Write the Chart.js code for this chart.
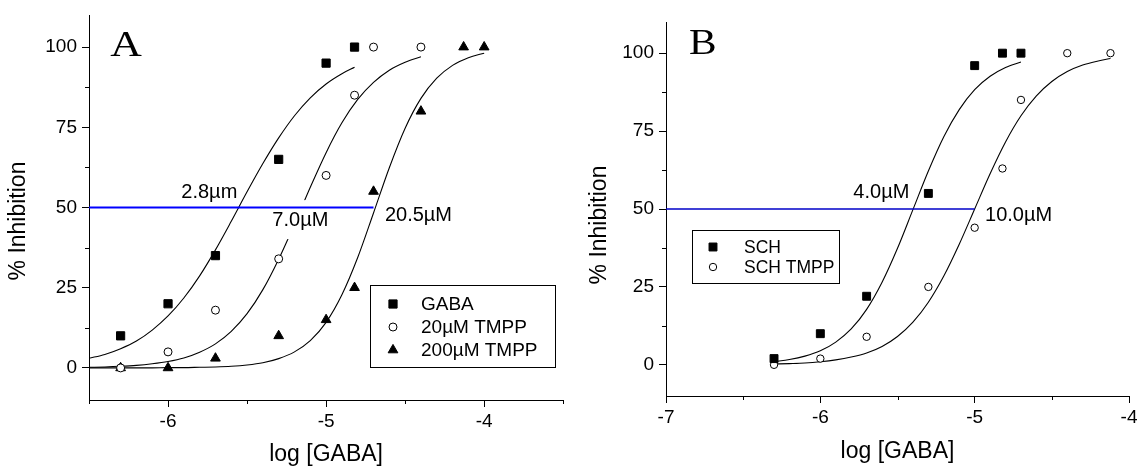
<!DOCTYPE html>
<html>
<head>
<meta charset="utf-8">
<script src="https://cdn.jsdelivr.net/npm/chart.js@4.4.1/dist/chart.umd.min.js"></script>
<style>
  html, body { margin: 0; padding: 0; background: #fff; overflow: hidden; }
  #wrap { position: relative; width: 1137px; height: 468px; overflow: hidden; }
  #chartA { position: absolute; left: 0; top: 0; }
  #chartB { position: absolute; left: 570px; top: 0; }
</style>
</head>
<body>
<div id="wrap">
  <canvas id="chartA" width="570" height="468"></canvas>
  <canvas id="chartB" width="580" height="468"></canvas>
</div>
<script>
// ---------- panel A : measured points ----------
const gabaX    = [-6.3, -6.0, -5.7, -5.3, -5.0, -4.82];
const gabaY    = [10, 20, 35, 65, 95, 100];
const tmpp20X  = [-6.3, -6.0, -5.7, -5.3, -5.0, -4.82, -4.7, -4.4];
const tmpp20Y  = [0, 5, 18, 34, 60, 85, 100, 100];
const tmpp200X = [-6.3, -6.0, -5.7, -5.3, -5.0, -4.82, -4.7, -4.4, -4.13, -4.0];
const tmpp200Y = [0, 0, 3, 10, 15, 25, 55, 80, 100, 100];

// panel A : fitted curves
const gabaFitX = [-6.5, -6.4, -6.3, -6.2, -6.1, -6.0, -5.9, -5.8, -5.7, -5.6, -5.5, -5.4, -5.3, -5.2, -5.1, -5.0, -4.9, -4.82];
const gabaFitY = [3.0, 4.2, 6.0, 8.4, 11.8, 16.2, 21.8, 28.7, 36.8, 45.7, 54.9, 63.7, 71.7, 78.6, 84.2, 88.5, 91.7, 93.7];
const tmpp20FitX = [-6.5, -6.4, -6.3, -6.2, -6.1, -6.0, -5.9, -5.8, -5.7, -5.6, -5.5, -5.4, -5.3, -5.2, -5.1, -5.0, -4.9, -4.8, -4.7, -4.6, -4.5, -4.4];
const tmpp20FitY = [0.2, 0.3, 0.5, 0.8, 1.3, 2.0, 3.1, 4.9, 7.5, 11.4, 16.9, 24.4, 33.9, 44.8, 56.3, 67.1, 76.4, 83.7, 89.0, 92.8, 95.3, 97.0];
const tmpp200FitX = [-6.5, -6.4, -6.3, -6.2, -6.1, -6.0, -5.9, -5.8, -5.7, -5.6, -5.5, -5.4, -5.3, -5.2, -5.1, -5.0, -4.9, -4.8, -4.7, -4.6, -4.5, -4.4, -4.3, -4.2, -4.1, -4.0];
const tmpp200FitY = [0, 0, 0, 0, 0, 0.1, 0.1, 0.2, 0.3, 0.5, 0.9, 1.6, 2.9, 5.0, 8.5, 14.2, 22.8, 34.4, 48.3, 62.4, 74.7, 84.0, 90.3, 94.3, 96.7, 98.1];
const halfA_X = [-6.5, -4.7];
const halfA_Y = [50, 50];

// ---------- panel B ----------
const schX  = [-6.3, -6.0, -5.7, -5.3, -5.0, -4.82, -4.7];
const schY  = [2, 10, 22, 55, 96, 100, 100];
const schTX = [-6.3, -6.0, -5.7, -5.3, -5.0, -4.82, -4.7, -4.4, -4.12];
const schTY = [0, 2, 9, 25, 44, 63, 85, 100, 100];
const schFitX = [-6.3, -6.2, -6.1, -6.0, -5.9, -5.8, -5.7, -5.6, -5.5, -5.4, -5.3, -5.2, -5.1, -5.0, -4.9, -4.8, -4.7];
const schFitY = [1.0, 1.7, 2.8, 4.5, 7.3, 11.5, 17.8, 26.5, 37.4, 49.8, 62.2, 73.2, 81.9, 88.3, 92.6, 95.4, 97.2];
const schTFitX = [-6.3, -6.2, -6.1, -6.0, -5.9, -5.8, -5.7, -5.6, -5.5, -5.4, -5.3, -5.2, -5.1, -5.0, -4.9, -4.8, -4.7, -4.6, -4.5, -4.4, -4.3, -4.2, -4.12];
const schTFitY = [0.25, 0.4, 0.6, 1.0, 1.6, 2.5, 3.8, 5.9, 9.1, 13.7, 20.1, 28.5, 38.7, 50, 61.3, 71.5, 79.9, 86.3, 90.9, 94.1, 96.2, 97.5, 98.3];
const halfB_X = [-7.0, -5.0];
const halfB_Y = [50, 50];

// ticks
const xMajorA = [-6, -5, -4];
const xMinorA = [-6.5, -5.5, -4.5, -3.5];
const xMajorB = [-7, -6, -5, -4];
const xMinorB = [-6.5, -5.5, -4.5];
const yMajor = [0, 25, 50, 75, 100];
const yMinor = [12.5, 37.5, 62.5, 87.5];

const SANS = '"Liberation Sans", Arial, sans-serif';
const SERIF = '"Liberation Serif", "Times New Roman", serif';

function pts(xs, ys) { return xs.map((x, i) => ({ x: x, y: ys[i] })); }

function drawSymbol(ctx, ds, x, y) {
  const r = ds.pointRadius;
  ctx.beginPath();
  if (ds.pointStyle === 'rect') {
    const s = r * Math.SQRT1_2;
    ctx.rect(x - s, y - s, 2 * s, 2 * s);
  } else if (ds.pointStyle === 'triangle') {
    ctx.moveTo(x, y - r);
    ctx.lineTo(x + r * 0.866, y + r * 0.5);
    ctx.lineTo(x - r * 0.866, y + r * 0.5);
    ctx.closePath();
  } else {
    ctx.arc(x, y, r, 0, Math.PI * 2);
  }
  ctx.fillStyle = ds.pointBackgroundColor;
  ctx.fill();
  ctx.lineWidth = 1;
  ctx.strokeStyle = ds.pointBorderColor;
  ctx.stroke();
}

const deco = {
  id: 'deco',
  // IC50 labels go under the 50% line but over the curves
  beforeDatasetDraw(chart, args, o) {
    if (!chart.data.datasets[args.index].isRef) return;
    const ctx = chart.ctx, sx = chart.scales.x, sy = chart.scales.y;
    ctx.save();
    ctx.font = o.labelSize + 'px ' + SANS;
    ctx.textAlign = 'left';
    ctx.textBaseline = 'alphabetic';
    o.labels.forEach(l => {
      const px = sx.getPixelForValue(l.x), py = sy.getPixelForValue(l.y);
      if (l.mask) {
        const w = ctx.measureText(l.text).width;
        ctx.fillStyle = '#fff';
        ctx.fillRect(px - 4, py - 26, w + 8, 39);
      }
      ctx.fillStyle = '#000';
      ctx.fillText(l.text, px, py);
    });
    ctx.restore();
  },
  afterDraw(chart, args, o) {
    const ctx = chart.ctx, sx = chart.scales.x, sy = chart.scales.y, a = chart.chartArea;
    ctx.save();
    // minor ticks
    ctx.strokeStyle = '#000';
    ctx.lineWidth = 1;
    ctx.beginPath();
    o.xMinor.forEach(v => {
      const px = Math.round(sx.getPixelForValue(v)) + 0.5;
      ctx.moveTo(px, a.bottom);
      ctx.lineTo(px, a.bottom + 4);
    });
    o.yMinor.forEach(v => {
      const py = Math.round(sy.getPixelForValue(v)) + 0.5;
      ctx.moveTo(a.left, py);
      ctx.lineTo(a.left - 4, py);
    });
    ctx.stroke();

    // axis titles
    ctx.fillStyle = '#000';
    ctx.font = o.titleSize + 'px ' + SANS;
    ctx.textAlign = 'center';
    ctx.textBaseline = 'alphabetic';
    ctx.fillText(o.xTitle, (a.left + a.right) / 2, o.xTitleY);
    ctx.save();
    ctx.translate(o.yTitleX, o.yTitleMid);
    ctx.rotate(-Math.PI / 2);
    ctx.fillText(o.yTitle, 0, 0);
    ctx.restore();

    // panel letter (the original glyph is a little wider than Liberation Serif)
    ctx.save();
    ctx.font = o.letterSize + 'px ' + SERIF;
    ctx.textAlign = 'left';
    ctx.translate(sx.getPixelForValue(o.letterAt[0]), sy.getPixelForValue(o.letterAt[1]));
    ctx.scale(o.letterStretch, 1);
    ctx.fillText(o.letter, 0, 0);
    ctx.restore();

    // legend
    const L = o.legend;
    ctx.fillStyle = '#fff';
    ctx.fillRect(L.x, L.y, L.w, L.h);
    ctx.strokeStyle = '#000';
    ctx.strokeRect(L.x + 0.5, L.y + 0.5, L.w, L.h);
    ctx.font = L.size + 'px ' + SANS;
    L.items.forEach((idx, i) => {
      const ds = chart.data.datasets[idx];
      const cy = L.y + L.first + i * L.step;
      drawSymbol(ctx, ds, L.symX, cy);
      ctx.fillStyle = '#000';
      ctx.textAlign = 'left';
      ctx.textBaseline = 'middle';
      ctx.fillText(ds.label, L.textX, cy + 1);
    });
    ctx.restore();
  }
};

function scatterSet(label, xs, ys, style, r, fill) {
  return {
    label: label, data: pts(xs, ys), showLine: false, order: 0,
    pointStyle: style, pointRadius: r, pointHoverRadius: r,
    pointBackgroundColor: fill, pointBorderColor: '#000', pointBorderWidth: 1
  };
}
function fitSet(xs, ys) {
  return {
    label: 'fit', data: pts(xs, ys), showLine: true, order: 2, pointRadius: 0,
    borderColor: '#000', borderWidth: 1.1, cubicInterpolationMode: 'monotone', fill: false
  };
}
function refSet(xs, ys, color, w) {
  return {
    label: 'ref', isRef: true, data: pts(xs, ys), showLine: true, order: 1, pointRadius: 0,
    borderColor: color, borderWidth: w, fill: false
  };
}

function makeScales(xmin, xmax, xMajor, yAxisW, xAxisH) {
  const tickFont = { family: SANS, size: 19 };
  return {
    x: {
      type: 'linear', min: xmin, max: xmax,
      afterBuildTicks: s => { s.ticks = xMajor.map(v => ({ value: v })); },
      afterFit: s => { s.height = xAxisH; s.paddingLeft = 0; s.paddingRight = 0; },
      grid: { display: true, drawOnChartArea: false, drawTicks: true, tickLength: 7, tickColor: '#000', tickWidth: 1 },
      border: { display: true, color: '#000', width: 1 },
      ticks: { color: '#000', font: tickFont, padding: 3, maxRotation: 0, autoSkip: false, callback: v => String(v) }
    },
    y: {
      type: 'linear', min: -10, max: 110,
      afterBuildTicks: s => { s.ticks = yMajor.map(v => ({ value: v })); },
      afterFit: s => { s.width = yAxisW; s.paddingTop = 0; s.paddingBottom = 0; },
      grid: { display: true, drawOnChartArea: false, drawTicks: true, tickLength: 7, tickColor: '#000', tickWidth: 1 },
      border: { display: true, color: '#000', width: 1 },
      ticks: { color: '#000', font: tickFont, padding: 5, autoSkip: false, callback: v => String(v) }
    }
  };
}

const common = {
  responsive: false, animation: false, devicePixelRatio: 1, events: []
};

new Chart(document.getElementById('chartA'), {
  type: 'scatter',
  data: {
    datasets: [
      scatterSet('GABA', gabaX, gabaY, 'rect', 5.8, '#000'),
      scatterSet('20µM TMPP', tmpp20X, tmpp20Y, 'circle', 4.0, '#fff'),
      scatterSet('200µM TMPP', tmpp200X, tmpp200Y, 'triangle', 5.6, '#000'),
      refSet(halfA_X, halfA_Y, '#0000ff', 2),
      fitSet(gabaFitX, gabaFitY),
      fitSet(tmpp20FitX, tmpp20FitY),
      fitSet(tmpp200FitX, tmpp200FitY)
    ]
  },
  options: Object.assign({}, common, {
    layout: { padding: { left: 0, top: 15, right: 3, bottom: 0 } },
    scales: makeScales(-6.5, -3.5, xMajorA, 89, 68),
    plugins: {
      legend: { display: false }, tooltip: { enabled: false },
      deco: {
        xMinor: xMinorA, yMinor: yMinor,
        xTitle: 'log [GABA]', xTitleY: 461, yTitle: '% Inhibition', yTitleX: 25, yTitleMid: 221, titleSize: 23,
        letter: 'A', letterAt: [-6.366, 97.1], letterSize: 35, letterStretch: 1.25,
        labelSize: 20,
        labels: [
          { text: '2.8µm', x: -5.916, y: 53.1 },
          { text: '7.0µM', x: -5.34, y: 44.2, mask: true },
          { text: '20.5µM', x: -4.628, y: 45.8 }
        ],
        legend: { x: 370, y: 285, w: 185, h: 82, symX: 393, textX: 421, first: 19, step: 23, size: 19, items: [0, 1, 2] }
      }
    }
  }),
  plugins: [deco]
});

new Chart(document.getElementById('chartB'), {
  type: 'scatter',
  data: {
    datasets: [
      scatterSet('SCH', schX, schY, 'rect', 5.6, '#000'),
      scatterSet('SCH TMPP', schTX, schTY, 'circle', 3.7, '#fff'),
      refSet(halfB_X, halfB_Y, '#0000c8', 1.4),
      fitSet(schFitX, schFitY),
      fitSet(schTFitX, schTFitY)
    ]
  },
  options: Object.assign({}, common, {
    layout: { padding: { left: 0, top: 22, right: 21, bottom: 0 } },
    scales: makeScales(-7, -4, xMajorB, 96, 72),
    plugins: {
      legend: { display: false }, tooltip: { enabled: false },
      deco: {
        xMinor: xMinorB, yMinor: yMinor,
        xTitle: 'log [GABA]', xTitleY: 458, yTitle: '% Inhibition', yTitleX: 36, yTitleMid: 225, titleSize: 23,
        letter: 'B', letterAt: [-6.851, 99.8], letterSize: 36, letterStretch: 1.15,
        labelSize: 20,
        labels: [
          { text: '4.0µM', x: -5.786, y: 53.4 },
          { text: '10.0µM', x: -4.933, y: 46 }
        ],
        legend: { x: 122, y: 230, w: 147, h: 53, symX: 143, textX: 174, first: 17, step: 20, size: 17.5, items: [0, 1] }
      }
    }
  }),
  plugins: [deco]
});
</script>
</body>
</html>
